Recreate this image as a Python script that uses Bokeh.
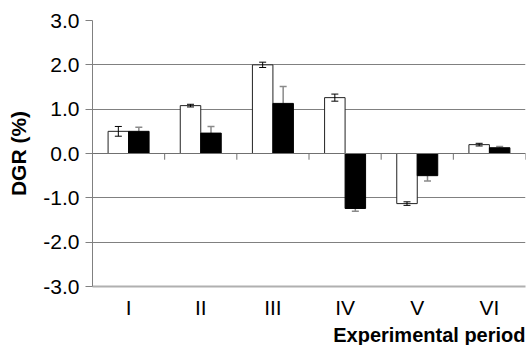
from bokeh.plotting import figure
from bokeh.models import (ColumnDataSource, FactorRange, FixedTicker, PrintfTickFormatter,
                          Whisker, TeeHead, Title, Span)
from bokeh.transform import dodge
from bokeh.embed import file_html
from bokeh.resources import INLINE

periods = ["I", "II", "III", "IV", "V", "VI"]
white = [0.50, 1.08, 2.00, 1.26, -1.13, 0.20]
white_err = [0.11, 0.03, 0.06, 0.08, 0.04, 0.03]
black = [0.50, 0.46, 1.13, -1.24, -0.50, 0.13]
black_err = [0.09, 0.15, 0.38, 0.06, 0.12, 0.03]
y_ticks = [-3, -2, -1, 0, 1, 2, 3]

FONT = "Liberation Sans"
OFF = 0.142
BW = 0.284

src = ColumnDataSource(dict(
    period=periods,
    white=white,
    black=black,
    w_lo=[v - e for v, e in zip(white, white_err)],
    w_hi=[v + e for v, e in zip(white, white_err)],
    b_base=black,
    b_end=[v + (e if v >= 0 else -e) for v, e in zip(black, black_err)],
))

p = figure(x_range=FactorRange(*periods, range_padding=0), y_range=(-3, 3),
           width=526, height=345, output_backend="svg", toolbar_location=None,
           min_border_left=92, min_border_right=1, min_border_top=20, min_border_bottom=0)
p.outline_line_color = None
p.background_fill_color = "white"
p.border_fill_color = "white"

p.xgrid.grid_line_color = None
p.ygrid.grid_line_color = "#808080"
p.ygrid.grid_line_width = 1
p.yaxis.ticker = FixedTicker(ticks=y_ticks)
p.yaxis.formatter = PrintfTickFormatter(format="%.1f")

p.yaxis.axis_line_color = "#808080"
p.yaxis.major_tick_line_color = "#808080"
p.yaxis.major_tick_out = 7
p.yaxis.major_tick_in = 0
p.yaxis.minor_tick_line_color = None
p.yaxis.major_label_text_font = FONT
p.yaxis.major_label_text_font_size = "21px"
p.yaxis.major_label_text_color = "black"
p.yaxis.major_label_standoff = 6
p.yaxis.axis_label = "DGR (%)"
p.yaxis.axis_label_text_font = FONT
p.yaxis.axis_label_text_font_size = "21px"
p.yaxis.axis_label_text_font_style = "bold"
p.yaxis.axis_label_text_color = "black"
p.yaxis.axis_label_standoff = 10

p.xaxis.axis_line_color = "#b0b0b0"
p.xaxis.axis_line_width = 2
p.xaxis.major_tick_line_color = None
p.xaxis.minor_tick_line_color = None
p.xaxis.major_label_text_font = FONT
p.xaxis.major_label_text_font_size = "21px"
p.xaxis.major_label_text_color = "black"
p.xaxis.major_label_standoff = 3

p.add_layout(Span(location=0, dimension="width", line_color="#707070", line_width=1))
p.segment(x0=dodge("period", 0.5, range=p.x_range), y0=0,
          x1=dodge("period", 0.5, range=p.x_range), y1=-0.14,
          source=src, line_color="#707070", line_width=1)

bw = Whisker(source=src, base=dodge("period", OFF, range=p.x_range),
             lower="b_base", upper="b_end", line_color="#8a8a8a", line_width=1.5,
             lower_head=None, upper_head=TeeHead(size=7, line_color="#8a8a8a", line_width=1.5),
             level="underlay")
p.add_layout(bw)

p.vbar(x=dodge("period", -OFF, range=p.x_range), top="white", bottom=0, width=BW,
       source=src, fill_color="white", line_color="#222222", line_width=1)
p.vbar(x=dodge("period", OFF, range=p.x_range), top="black", bottom=0, width=BW,
       source=src, fill_color="black", line_color="black", line_width=1)

ww = Whisker(source=src, base=dodge("period", -OFF, range=p.x_range),
             lower="w_lo", upper="w_hi", line_color="black", line_width=1,
             lower_head=TeeHead(size=7, line_color="black", line_width=1),
             upper_head=TeeHead(size=7, line_color="black", line_width=1),
             level="annotation")
p.add_layout(ww)

t = Title(text="Experimental period", align="right", text_font=FONT,
          text_font_size="20px", text_font_style="bold", text_color="black",
          standoff=0, offset=0)
p.add_layout(t, "below")

open("out.html", "w").write(file_html(p, INLINE))
